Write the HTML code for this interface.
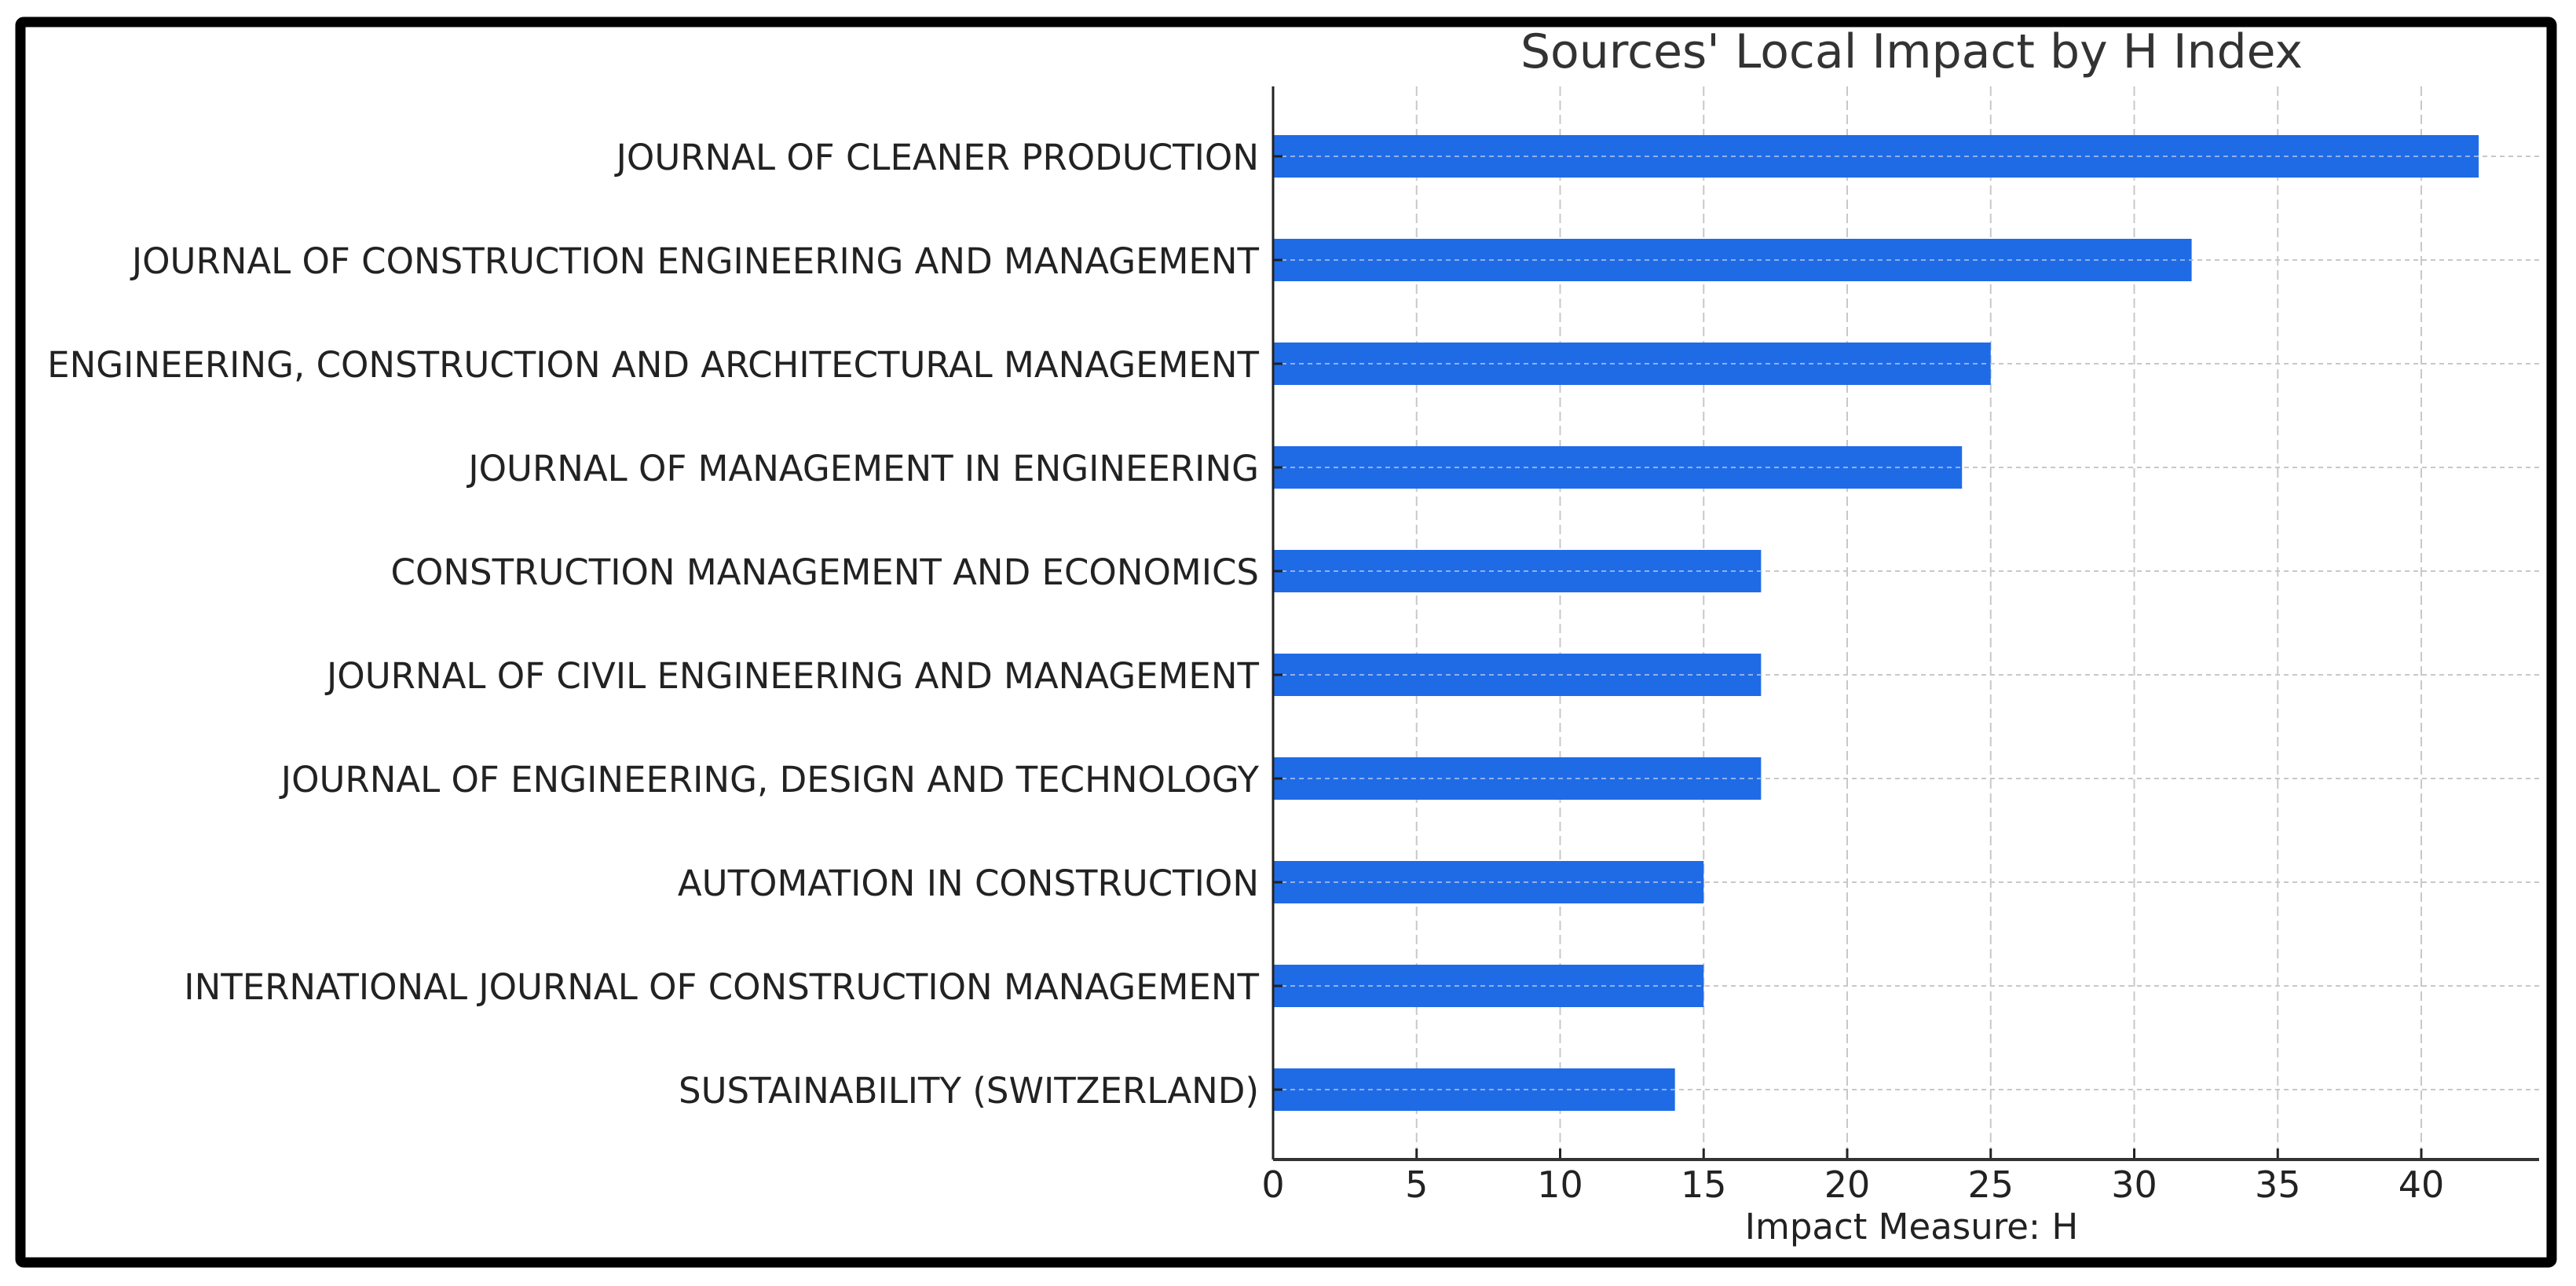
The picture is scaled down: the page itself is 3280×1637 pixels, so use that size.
<!DOCTYPE html>
<html><head><meta charset="utf-8"><style>
html,body{margin:0;padding:0;background:#fff;}
svg{display:block;font-family:"DejaVu Sans","Liberation Sans",sans-serif;}
</style></head><body>
<svg id="chart" width="3280" height="1637" viewBox="0 0 3280 1637" xmlns="http://www.w3.org/2000/svg">
<rect x="0" y="0" width="3280" height="1637" fill="#fff"/>
<rect x="26" y="28" width="3223" height="1579" fill="none" stroke="#000" stroke-width="13" rx="4"/>
<text x="2434" y="86" text-anchor="middle" font-size="60" fill="#333">Sources' Local Impact by H Index</text>
<g id="grid"></g>
<g id="bars"></g>
<g id="axes"></g>
<text x="2434" y="1577" text-anchor="middle" font-size="45" fill="#222">Impact Measure: H</text>
</svg>
<script>
const categories = ["JOURNAL OF CLEANER PRODUCTION","JOURNAL OF CONSTRUCTION ENGINEERING AND MANAGEMENT","ENGINEERING, CONSTRUCTION AND ARCHITECTURAL MANAGEMENT","JOURNAL OF MANAGEMENT IN ENGINEERING","CONSTRUCTION MANAGEMENT AND ECONOMICS","JOURNAL OF CIVIL ENGINEERING AND MANAGEMENT","JOURNAL OF ENGINEERING, DESIGN AND TECHNOLOGY","AUTOMATION IN CONSTRUCTION","INTERNATIONAL JOURNAL OF CONSTRUCTION MANAGEMENT","SUSTAINABILITY (SWITZERLAND)"];
const values = [42,32,25,24,17,17,17,15,15,14];
const xTicks = [0,5,10,15,20,25,30,35,40];

const NS="http://www.w3.org/2000/svg";
const X0=1621, PX=36.55, Y0=199, STEP=132, BAR_H=54, AX_TOP=110, AX_BOT=1476, AX_RIGHT=3233;
const xs=v=>X0+v*PX;
const ys=i=>Y0+i*STEP;
function mk(tag,attrs,parent){const e=document.createElementNS(NS,tag);for(const k in attrs)e.setAttribute(k,attrs[k]);parent.appendChild(e);return e;}
const grid=document.getElementById('grid'),bars=document.getElementById('bars'),axes=document.getElementById('axes');

xTicks.forEach(t=>{
  const l=mk('line',{x1:xs(t),x2:xs(t),y1:AX_TOP,y2:AX_BOT,stroke:'#c8c8c8','stroke-width':2,'stroke-dasharray':'12,6'},grid);
  
  
  const tk=mk('line',{x1:xs(t),x2:xs(t),y1:AX_BOT-14,y2:AX_BOT,stroke:'#222','stroke-width':3},axes);
  
  
  const tx=mk('text',{x:xs(t),y:1524,'text-anchor':'middle','font-size':46,fill:'#222'},axes);
  tx.textContent=t;
  
  
});
categories.forEach((c,i)=>{
  const g=mk('line',{x1:X0,x2:AX_RIGHT,y1:ys(i),y2:ys(i),stroke:'#c8c8c8','stroke-width':2,'stroke-dasharray':'6,5'},grid);
  
  
  const r=mk('rect',{x:X0,y:ys(i)-BAR_H/2,width:xs(values[i])-X0,height:BAR_H,fill:'#1f6be6'},bars);
  
  
  const gl=mk('line',{x1:X0,x2:xs(values[i]),y1:ys(i),y2:ys(i),stroke:'#8fb0ee','stroke-width':2,'stroke-dasharray':'6,5'},bars);
  
  
  const tx=mk('text',{x:1603,y:ys(i)+17,'text-anchor':'end','font-size':45,fill:'#222'},axes);
  tx.textContent=c;
  
  
  const tk=mk('line',{x1:X0,x2:X0+12,y1:ys(i),y2:ys(i),stroke:'#222','stroke-width':3},axes);
  
  
});
const ya=mk('line',{x1:X0,x2:X0,y1:AX_TOP,y2:AX_BOT,stroke:'#222','stroke-width':3},axes);


const xa=mk('line',{x1:X0,x2:AX_RIGHT,y1:AX_BOT,y2:AX_BOT,stroke:'#333','stroke-width':4},axes);


</script>
</body></html>
